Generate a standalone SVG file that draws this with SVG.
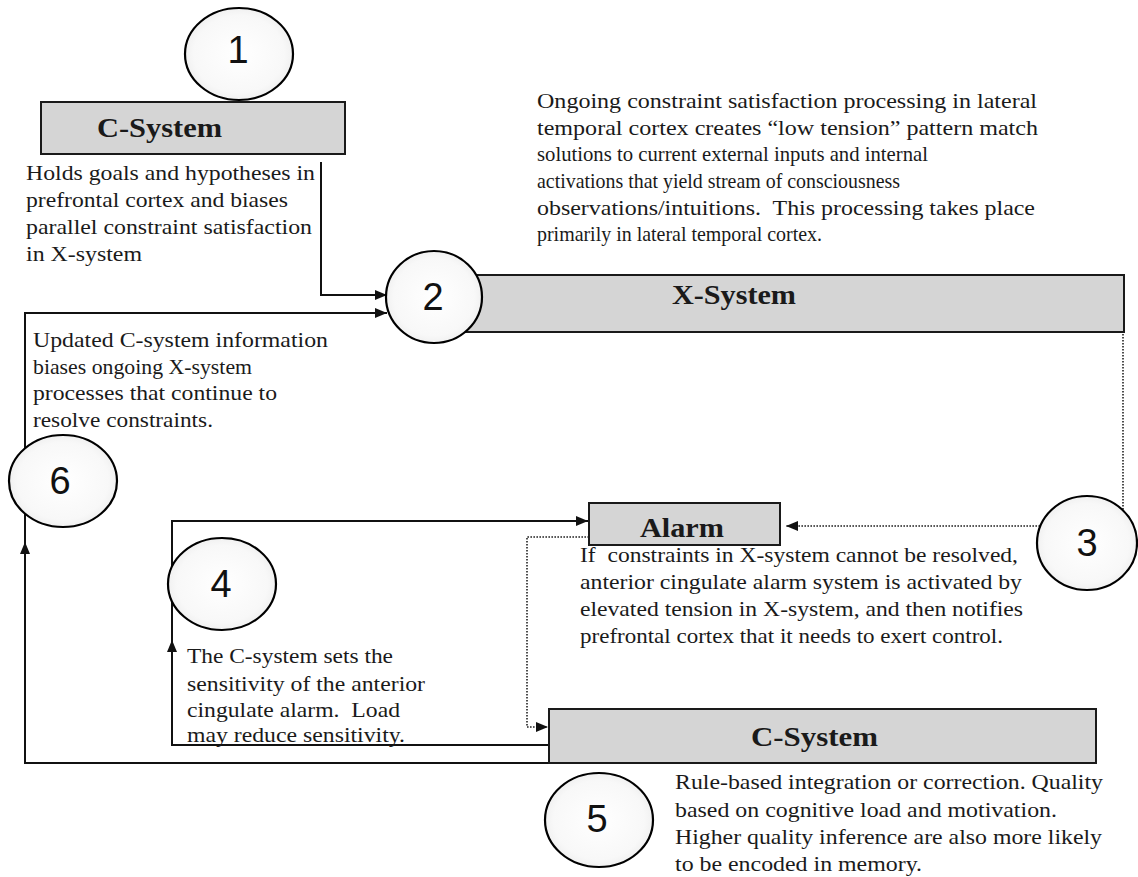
<svg xmlns="http://www.w3.org/2000/svg" width="1138" height="877" viewBox="0 0 1138 877">
<style>
.box{fill:#d5d5d5;stroke:#1a1a1a;stroke-width:2}
.num{fill:url(#cg);stroke:#000;stroke-width:2.2}
.digit{font-family:"Liberation Sans",Arial,sans-serif;font-size:38px;fill:#111;text-anchor:middle}
.title{font-family:"Liberation Serif","Times New Roman",serif;font-size:27px;font-weight:bold;fill:#1a1a1a}
.body{font-family:"Liberation Serif","Times New Roman",serif;font-size:22px;fill:#1a1a1a;white-space:pre}
.ln{fill:none;stroke:#111;stroke-width:2}
.dot{fill:none;stroke:#222;stroke-width:1.6;stroke-dasharray:1.6 1.4}
</style>
<defs>
<radialGradient id="cg" cx="0.5" cy="0.5" r="0.6">
<stop offset="0" stop-color="#ffffff"/>
<stop offset="0.7" stop-color="#f8f8f8"/>
<stop offset="1" stop-color="#e8e8e8"/>
</radialGradient>
<marker id="ah" markerUnits="userSpaceOnUse" markerWidth="12" markerHeight="10" refX="12" refY="5" orient="auto">
<path d="M0,0 L12,5 L0,10 z" fill="#111"/>
</marker>
</defs>
<rect width="1138" height="877" fill="#fff"/>
<g id="connectors">
<path class="ln" d="M321,162 L321,295 L387,295" marker-end="url(#ah)"/>
<path class="ln" d="M549,763 L25,763 L25,542" marker-end="url(#ah)"/>
<path class="ln" d="M25,544 L25,313 L387,313" marker-end="url(#ah)"/>
<path class="ln" d="M549,745 L172,745 L172,640" marker-end="url(#ah)"/>
<path class="ln" d="M172,642 L172,521 L588,521" marker-end="url(#ah)"/>
<path class="dot" d="M1123,334 L1123,510"/>
<path class="dot" d="M1040,526 L786,526" marker-end="url(#ah)"/>
<path class="dot" d="M589,537 L527,537 L527,727 L548,727" marker-end="url(#ah)"/>
</g>
<g id="node1">
<rect class="box" x="41" y="102" width="304" height="52"/>
<text class="title" x="97" y="137" textLength="125" lengthAdjust="spacingAndGlyphs">C-System</text>
<ellipse class="num" cx="239" cy="54" rx="54" ry="46"/>
<text class="digit" x="238" y="63">1</text>
<text class="body" x="26" y="180" textLength="289" lengthAdjust="spacingAndGlyphs">Holds goals and hypotheses in</text>
<text class="body" x="26" y="207" textLength="262" lengthAdjust="spacingAndGlyphs">prefrontal cortex and biases</text>
<text class="body" x="26" y="234" textLength="286" lengthAdjust="spacingAndGlyphs">parallel constraint satisfaction</text>
<text class="body" x="26" y="261" textLength="116" lengthAdjust="spacingAndGlyphs">in X-system</text>
</g>
<g id="node2">
<rect class="box" x="420" y="275" width="704" height="57"/>
<text class="title" x="672" y="304" textLength="124" lengthAdjust="spacingAndGlyphs">X-System</text>
<ellipse class="num" cx="434" cy="297" rx="48" ry="46"/>
<text class="digit" x="433" y="310">2</text>
<text class="body" x="537" y="108" textLength="500" lengthAdjust="spacingAndGlyphs">Ongoing constraint satisfaction processing in lateral</text>
<text class="body" x="537" y="135" textLength="501" lengthAdjust="spacingAndGlyphs">temporal cortex creates “low tension” pattern match</text>
<text class="body" x="537" y="161" textLength="391" lengthAdjust="spacingAndGlyphs">solutions to current external inputs and internal</text>
<text class="body" x="537" y="188" textLength="363" lengthAdjust="spacingAndGlyphs">activations that yield stream of consciousness</text>
<text class="body" x="537" y="215" textLength="498" lengthAdjust="spacingAndGlyphs">observations/intuitions.  This processing takes place</text>
<text class="body" x="537" y="241" textLength="285" lengthAdjust="spacingAndGlyphs">primarily in lateral temporal cortex.</text>
</g>
<g id="node3">
<rect class="box" x="589" y="503" width="191" height="42"/>
<text class="title" x="640" y="537" textLength="84" lengthAdjust="spacingAndGlyphs">Alarm</text>
<ellipse class="num" cx="1087" cy="543" rx="50" ry="47"/>
<text class="digit" x="1087" y="556">3</text>
<text class="body" x="580" y="562" textLength="438" lengthAdjust="spacingAndGlyphs">If  constraints in X-system cannot be resolved,</text>
<text class="body" x="580" y="589" textLength="442" lengthAdjust="spacingAndGlyphs">anterior cingulate alarm system is activated by</text>
<text class="body" x="580" y="616" textLength="443" lengthAdjust="spacingAndGlyphs">elevated tension in X-system, and then notifies</text>
<text class="body" x="580" y="643" textLength="423" lengthAdjust="spacingAndGlyphs">prefrontal cortex that it needs to exert control.</text>
</g>
<g id="node4">
<ellipse class="num" cx="222" cy="584" rx="54" ry="46"/>
<text class="digit" x="221" y="597">4</text>
<text class="body" x="187" y="663" textLength="206" lengthAdjust="spacingAndGlyphs">The C-system sets the</text>
<text class="body" x="187" y="691" textLength="238" lengthAdjust="spacingAndGlyphs">sensitivity of the anterior</text>
<text class="body" x="187" y="717" textLength="213" lengthAdjust="spacingAndGlyphs">cingulate alarm.  Load</text>
<text class="body" x="187" y="742" textLength="218" lengthAdjust="spacingAndGlyphs">may reduce sensitivity.</text>
</g>
<g id="node5">
<rect class="box" x="549" y="709" width="547" height="54"/>
<text class="title" x="751" y="746" textLength="127" lengthAdjust="spacingAndGlyphs">C-System</text>
<ellipse class="num" cx="599" cy="820" rx="54" ry="47"/>
<text class="digit" x="597" y="832">5</text>
<text class="body" x="675" y="789" textLength="428" lengthAdjust="spacingAndGlyphs">Rule-based integration or correction. Quality</text>
<text class="body" x="675" y="817" textLength="382" lengthAdjust="spacingAndGlyphs">based on cognitive load and motivation.</text>
<text class="body" x="675" y="844" textLength="427" lengthAdjust="spacingAndGlyphs">Higher quality inference are also more likely</text>
<text class="body" x="675" y="871" textLength="247" lengthAdjust="spacingAndGlyphs">to be encoded in memory.</text>
</g>
<g id="node6">
<ellipse class="num" cx="63" cy="481" rx="54" ry="46"/>
<text class="digit" x="60" y="494">6</text>
<text class="body" x="33" y="347" textLength="295" lengthAdjust="spacingAndGlyphs">Updated C-system information</text>
<text class="body" x="33" y="374" textLength="219" lengthAdjust="spacingAndGlyphs">biases ongoing X-system</text>
<text class="body" x="33" y="400" textLength="244" lengthAdjust="spacingAndGlyphs">processes that continue to</text>
<text class="body" x="33" y="427" textLength="180" lengthAdjust="spacingAndGlyphs">resolve constraints.</text>
</g>
</svg>
